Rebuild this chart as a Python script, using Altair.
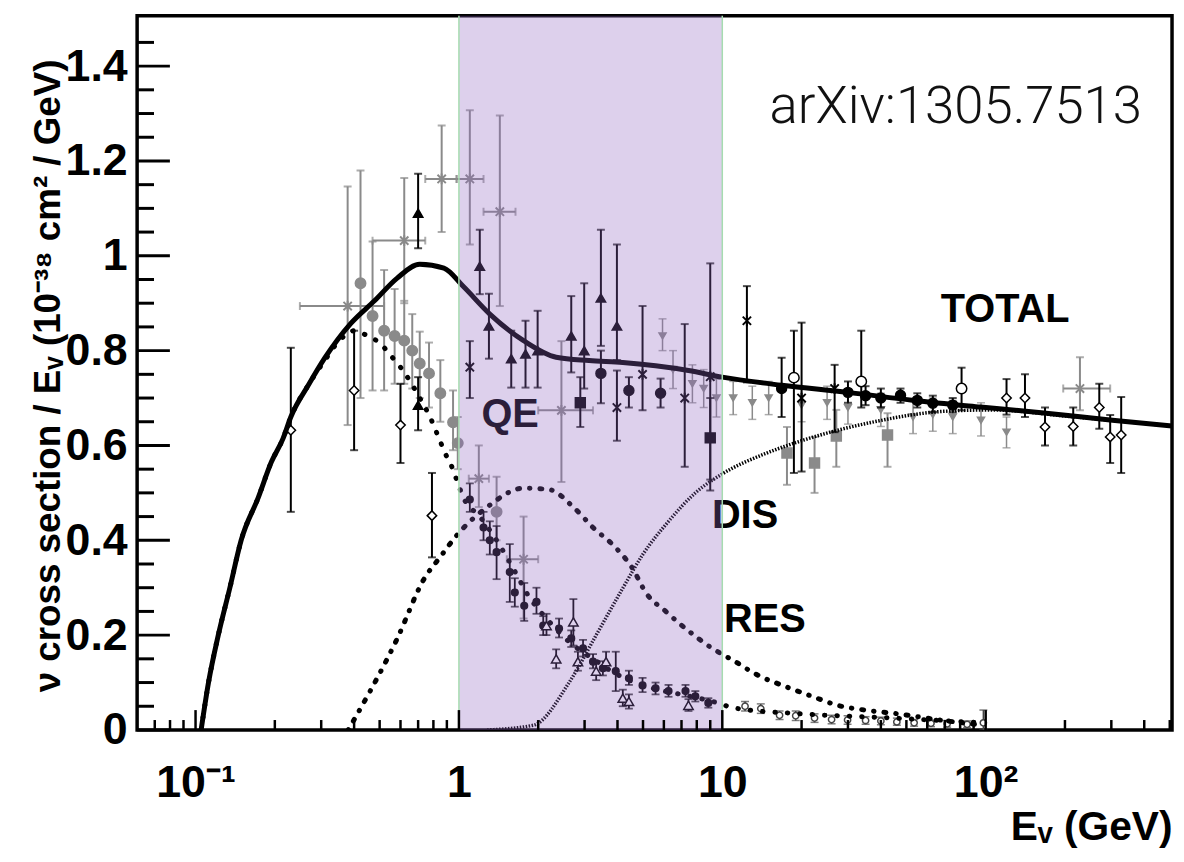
import altair as alt
import pandas as pd

FONT = "Liberation Sans"
BLACK = "#000000"
GRAY = "#8a8a8a"

# ---------------- axes / ticks ----------------
X_DOMAIN = [0.06, 510]
Y_DOMAIN = [0, 1.506]
BAND = [1, 10]
X_LABEL_VALUES = [0.1, 1, 10, 100]
Y_LABEL_VALUES = [0, 0.2, 0.4, 0.6, 0.8, 1, 1.2, 1.4]
X_MAJOR_TICKS = [0.1, 1, 10, 100]
X_MINOR_TICKS = [0.07, 0.08, 0.09, 0.2, 0.3, 0.4, 0.5, 0.6, 0.7, 0.8, 0.9,
                 2, 3, 4, 5, 6, 7, 8, 9, 20, 30, 40, 50, 60, 70, 80, 90,
                 200, 300, 400, 500]
Y_MAJOR_TICKS = [0, 0.2, 0.4, 0.6, 0.8, 1, 1.2, 1.4]
Y_MINOR_TICKS = [0.05, 0.1, 0.15, 0.25, 0.3, 0.35, 0.45, 0.5, 0.55, 0.65, 0.7,
                 0.75, 0.85, 0.9, 0.95, 1.05, 1.1, 1.15, 1.25, 1.3, 1.35, 1.45]

# ---------------- model curves ----------------
TOTAL_E = [0.105, 0.112, 0.122, 0.135, 0.149, 0.173, 0.194, 0.215, 0.23, 0.27, 0.31,
           0.388, 0.478, 0.583, 0.71, 0.877, 1.04, 1.31, 1.76, 2.34, 3.12, 4.19,
           5.58, 7.44, 10, 16.8, 29.9, 53.5, 95.5, 170, 303, 510]
TOTAL_Y = [0.0, 0.1, 0.2, 0.3, 0.4, 0.49, 0.565, 0.615, 0.66, 0.73, 0.785,
           0.857, 0.905, 0.953, 0.982, 0.974, 0.935, 0.877, 0.821, 0.786, 0.779, 0.775,
           0.768, 0.758, 0.744, 0.727, 0.712, 0.695, 0.681, 0.668, 0.653, 0.641]

QE_E = [0.105, 0.112, 0.122, 0.135, 0.149, 0.173, 0.194, 0.215, 0.23, 0.27, 0.31,
        0.35, 0.402, 0.45, 0.503, 0.55, 0.6, 0.65, 0.71, 0.777, 0.84, 0.886, 0.94,
        0.98, 1.04, 1.2, 1.39, 1.61, 1.85, 2.15, 2.62, 3.23, 4.05, 5.44, 7.25, 9.2,
        11.2, 18.8, 45, 98]
QE_Y = [0.0, 0.1, 0.2, 0.3, 0.4, 0.49, 0.565, 0.615, 0.66, 0.73, 0.78,
        0.82, 0.842, 0.831, 0.815, 0.79, 0.765, 0.737, 0.70, 0.66, 0.615, 0.584, 0.555,
        0.528, 0.49, 0.45, 0.40, 0.34, 0.28, 0.235, 0.186, 0.15, 0.115, 0.088, 0.073, 0.06,
        0.046, 0.035, 0.025, 0.015]

RES_E = [0.38, 0.58, 0.74, 0.85, 0.98, 1.28, 1.76, 2.2, 2.72, 3.23, 3.88, 4.57, 5.12,
         6.1, 7.4, 9.0, 11.2, 13.7, 17.3, 21.9, 27.4, 34.7, 45, 69, 98]
RES_Y = [0.0, 0.19, 0.32, 0.365, 0.41, 0.47, 0.51, 0.507, 0.47, 0.427, 0.388, 0.34, 0.29,
         0.25, 0.21, 0.175, 0.144, 0.115, 0.092, 0.071, 0.052, 0.042, 0.035, 0.02, 0.01]

DIS_E = [1.28, 1.92, 2.62, 3.32, 4.2, 4.99, 6.25, 7.9, 10, 14.9, 20, 37.8, 69.5, 107, 200, 510]
DIS_Y = [0.0, 0.01, 0.10, 0.2, 0.30, 0.37, 0.44, 0.50, 0.54, 0.585, 0.61, 0.65, 0.672,
         0.675, 0.662, 0.641]

# ---------------- data sets ----------------
# black filled triangles
A_E = [0.70, 0.70, 1.20, 1.30, 1.58, 1.79, 1.99, 2.67, 2.99, 3.46, 3.98]
A_Y = [1.09, 0.685, 0.978, 0.852, 0.783, 0.793, 0.80, 0.831, 0.80, 0.911, 0.852]
A_LO = [1.016, 0.632, 0.919, 0.783, 0.722, 0.722, 0.722, 0.754, 0.72, 0.81, 0.78]
A_HI = [1.173, 0.744, 1.055, 0.92, 0.842, 0.863, 0.884, 0.915, 0.942, 1.055, 1.024]

# black open diamonds
B_E = [0.23, 0.40, 0.60, 0.79, 120, 141, 168, 215, 270, 297, 327]
B_Y = [0.632, 0.716, 0.643, 0.452, 0.70, 0.70, 0.639, 0.64, 0.68, 0.618, 0.622]
B_LO = [0.46, 0.59, 0.563, 0.364, 0.665, 0.66, 0.60, 0.60, 0.635, 0.563, 0.542]
B_HI = [0.806, 0.842, 0.73, 0.542, 0.74, 0.75, 0.68, 0.68, 0.73, 0.664, 0.702]

# black filled circles
C_E = [3.46, 4.42, 5.83, 16.8, 30, 35, 40, 47.5, 55, 63, 75]
C_Y = [0.752, 0.716, 0.71, 0.72, 0.712, 0.705, 0.70, 0.706, 0.695, 0.689, 0.685]
C_LO = [0.689, 0.68, 0.68, 0.66, 0.69, 0.685, 0.68, 0.69, 0.68, 0.67, 0.67]
C_HI = [0.80, 0.744, 0.741, 0.785, 0.735, 0.725, 0.72, 0.72, 0.71, 0.705, 0.70]

# black asterisks
D_E = [1.10, 3.98, 4.98, 7.2, 9.0, 12.4, 20.0, 26.7]
D_Y = [0.765, 0.68, 0.75, 0.70, 0.745, 0.863, 0.70, 0.72]
D_LO = [0.70, 0.61, 0.674, 0.555, 0.505, 0.733, 0.545, 0.628]
D_HI = [0.82, 0.758, 0.894, 0.856, 0.984, 0.936, 0.859, 0.77]

# black filled squares
E_E = [2.89, 9.0]
E_Y = [0.69, 0.616]
E_LO = [0.639, 0.528]
E_HI = [0.744, 0.70]

# gray filled circles
F_E = [0.423, 0.47, 0.52, 0.57, 0.62, 0.665, 0.71, 0.77, 0.85, 0.95, 0.99, 1.39]
F_Y = [0.942, 0.873, 0.842, 0.831, 0.821, 0.80, 0.773, 0.752, 0.71, 0.649, 0.605, 0.46]
F_LO = [0.70, 0.716, 0.716, 0.73, 0.73, 0.72, 0.70, 0.68, 0.65, 0.59, 0.55, 0.40]
F_HI = [1.18, 1.03, 0.97, 0.93, 0.905, 0.877, 0.84, 0.817, 0.78, 0.716, 0.66, 0.534]

# gray asterisks with energy bins
G_E = [0.378, 0.62, 0.86, 1.10, 1.43, 1.19, 1.76, 2.45, 228]
G_Y = [0.894, 1.032, 1.162, 1.162, 1.093, 0.53, 0.36, 0.674, 0.72]
G_LO = [0.643, 0.90, 1.05, 1.024, 0.894, 0.47, 0.235, 0.523, 0.674]
G_HI = [1.146, 1.164, 1.275, 1.307, 1.296, 0.60, 0.45, 0.82, 0.786]
G_XLO = [0.249, 0.47, 0.745, 0.98, 1.24, 1.09, 1.52, 2.0, 197]
G_XHI = [0.52, 0.745, 0.98, 1.24, 1.64, 1.30, 2.0, 3.23, 297]

# gray filled squares
H_E = [17.6, 22.4, 27.1, 42.4]
H_Y = [0.584, 0.563, 0.62, 0.622]
H_LO = [0.517, 0.50, 0.555, 0.555]
H_HI = [0.639, 0.618, 0.675, 0.668]

# gray triangles (down)
I_E = [5.93, 6.5, 7.7, 8.5, 9.5, 11, 13, 15, 20, 25, 30, 40, 53, 63, 75, 96, 120]
I_Y = [0.831, 0.76, 0.73, 0.72, 0.70, 0.70, 0.69, 0.70, 0.685, 0.69, 0.68, 0.675,
       0.66, 0.665, 0.66, 0.653, 0.628]
I_LO = [0.80, 0.72, 0.69, 0.68, 0.66, 0.665, 0.655, 0.665, 0.65, 0.655, 0.645, 0.64,
        0.625, 0.63, 0.625, 0.62, 0.595]
I_HI = [0.867, 0.80, 0.77, 0.76, 0.74, 0.735, 0.725, 0.735, 0.72, 0.725, 0.715, 0.71,
        0.695, 0.70, 0.695, 0.69, 0.66]

# black open circles
J_E = [18.7, 33.7, 81]
J_Y = [0.743, 0.735, 0.72]
J_LO = [0.542, 0.68, 0.674]
J_HI = [0.842, 0.842, 0.764]

# black small filled circles along QE
K_E = [1.10, 1.24, 1.31, 1.39, 1.56, 1.63, 1.77, 1.97, 2.09, 2.40, 2.67, 2.96, 3.23,
       3.52, 3.94, 4.42, 4.98, 5.58, 6.25, 7.25, 7.9, 8.85]
K_Y = [0.486, 0.427, 0.40, 0.375, 0.333, 0.29, 0.262, 0.27, 0.22, 0.214, 0.193, 0.172,
       0.144, 0.13, 0.124, 0.109, 0.094, 0.088, 0.082, 0.082, 0.071, 0.057]
K_LO = [0.46, 0.40, 0.37, 0.318, 0.27, 0.26, 0.23, 0.245, 0.20, 0.195, 0.175, 0.155,
        0.13, 0.115, 0.082, 0.095, 0.08, 0.075, 0.07, 0.07, 0.06, 0.047]
K_HI = [0.52, 0.46, 0.44, 0.43, 0.392, 0.32, 0.31, 0.30, 0.24, 0.235, 0.21, 0.19,
        0.16, 0.145, 0.165, 0.125, 0.11, 0.10, 0.095, 0.095, 0.082, 0.067]

# black open triangles along QE
T_E = [2.15, 2.34, 2.72, 2.83, 3.32, 3.62, 4.19, 4.42, 7.44]
T_Y = [0.22, 0.15, 0.228, 0.144, 0.124, 0.144, 0.067, 0.06, 0.052]
T_LO = [0.20, 0.13, 0.178, 0.125, 0.105, 0.125, 0.05, 0.045, 0.04]
T_HI = [0.245, 0.17, 0.276, 0.165, 0.145, 0.165, 0.085, 0.075, 0.065]

# high-energy QE tail points
L_E = [12.2, 14, 16.5, 19, 22.4, 26, 29.9, 35, 40, 46, 53.5, 62, 71.4, 85, 98]
L_Y = [0.05, 0.045, 0.031, 0.03, 0.025, 0.022, 0.021, 0.02, 0.019, 0.017, 0.015,
       0.014, 0.013, 0.012, 0.015]
L_LO = [0.04, 0.035, 0.022, 0.02, 0.016, 0.013, 0.012, 0.012, 0.011, 0.01, 0.008,
        0.007, 0.006, 0.005, 0.0]
L_HI = [0.06, 0.055, 0.04, 0.04, 0.034, 0.031, 0.03, 0.028, 0.027, 0.025, 0.022,
        0.021, 0.02, 0.019, 0.042]

# labels
CURVE_LABELS = ["TOTAL", "QE", "DIS", "RES"]
CURVE_LABEL_E = [118.5, 1.565, 12.2, 14.5]
CURVE_LABEL_Y = [0.886, 0.664, 0.452, 0.232]
REF_TEXT = ["arXiv:1305.7513"]
REF_E = [77]
REF_Y = [1.313]

ASTERISK = "M-1,-1L1,1M-1,1L1,-1M0,-1.3L0,1.3"

# ---------------- scales / axes ----------------
XS = alt.Scale(type="log", domain=X_DOMAIN, nice=False)
YS = alt.Scale(domain=Y_DOMAIN, nice=False, zero=False)

X_AXIS = alt.Axis(
    values=X_LABEL_VALUES,
    labelExpr="datum.value < 0.5 ? '10⁻¹' : (datum.value > 50 ? '10²' : (datum.value < 5 ? '1' : '10'))",
    tickSize=0, domain=False, grid=False,
    labelFont=FONT, labelFontSize=45, labelFontWeight="bold", labelColor=BLACK,
    labelPadding=31, labelBaseline="top", labelFlush=False, labelOverlap=False,
    title="Eᵥ (GeV)", titleFont=FONT, titleFontSize=41, titleFontWeight="bold",
    titleColor=BLACK, titleX=1042, titleY=110, titleAlign="right",
    titleBaseline="alphabetic", titleAngle=0,
)
Y_AXIS = alt.Axis(
    values=Y_LABEL_VALUES, format="~g",
    tickSize=0, domain=False, grid=False,
    labelFont=FONT, labelFontSize=45, labelFontWeight="bold", labelColor=BLACK,
    labelPadding=10, labelBaseline="middle", labelFlush=False, labelOverlap=False,
    title="ν cross section / Eᵥ (10⁻³⁸ cm² / GeV)", titleFont=FONT, titleFontSize=37,
    titleFontWeight="bold", titleColor=BLACK, titleX=-78, titleY=362,
    titleAngle=270, titleAlign="center", titleBaseline="alphabetic",
)


def xq(field):
    return alt.X(f"{field}:Q", scale=XS, axis=X_AXIS)


def yq(field):
    return alt.Y(f"{field}:Q", scale=YS, axis=Y_AXIS)


def dataset(E, Y, LO, HI, shape, color, fill, size, sw=2.0, stroke_w=1.5, xlo=None, xhi=None, caps=True):
    d = {"E": E, "Y": Y, "LO": LO, "HI": HI}
    if xlo is not None:
        d["XLO"] = xlo
        d["XHI"] = xhi
    df = pd.DataFrame(d)
    base = alt.Chart(df)
    layers = [
        base.mark_rule(color=color, strokeWidth=sw, clip=True).encode(
            x=xq("E"), y=yq("LO"), y2="HI"),
    ]
    if caps:
        layers += [
            base.mark_tick(color=color, orient="horizontal", size=8, thickness=sw, clip=True).encode(
                x=xq("E"), y=yq("LO")),
            base.mark_tick(color=color, orient="horizontal", size=8, thickness=sw, clip=True).encode(
                x=xq("E"), y=yq("HI")),
        ]
    if xlo is not None:
        layers += [
            base.mark_rule(color=color, strokeWidth=sw, clip=True).encode(
                x=xq("XLO"), x2="XHI", y=yq("Y")),
            base.mark_tick(color=color, orient="vertical", size=8, thickness=sw, clip=True).encode(
                x=xq("XLO"), y=yq("Y")),
            base.mark_tick(color=color, orient="vertical", size=8, thickness=sw, clip=True).encode(
                x=xq("XHI"), y=yq("Y")),
        ]
    if fill is None:
        pt = base.mark_point(shape=shape, filled=False, stroke=color, strokeWidth=stroke_w,
                             size=size, opacity=1, clip=True)
    else:
        pt = base.mark_point(shape=shape, filled=True, fill=fill, stroke=color,
                             strokeWidth=stroke_w, size=size, opacity=1, clip=True)
    layers.append(pt.encode(x=xq("E"), y=yq("Y")))
    return layers


def curve(E, Y, width, dash=None, cap="butt"):
    df = pd.DataFrame({"E": E, "Y": Y})
    kw = dict(color=BLACK, strokeWidth=width, interpolate="monotone", clip=True, strokeCap=cap)
    if dash is not None:
        kw["strokeDash"] = dash
    return alt.Chart(df).mark_line(**kw).encode(x=xq("E"), y=yq("Y"))


layers = []
layers += dataset(F_E, F_Y, F_LO, F_HI, "circle", GRAY, GRAY, 110, caps=True)
layers += dataset(G_E, G_Y, G_LO, G_HI, ASTERISK, GRAY, None, 70, stroke_w=2,
                  xlo=G_XLO, xhi=G_XHI)
layers += dataset(H_E, H_Y, H_LO, H_HI, "square", GRAY, GRAY, 100)
layers += dataset(I_E, I_Y, I_LO, I_HI, "triangle-down", GRAY, GRAY, 50, sw=1.5)
layers += dataset(L_E, L_Y, L_LO, L_HI, "circle", "#444444", "white", 40, sw=1.5)
layers += dataset(A_E, A_Y, A_LO, A_HI, "triangle-up", BLACK, BLACK, 90)
layers += dataset(B_E, B_Y, B_LO, B_HI, "diamond", BLACK, "white", 90)
layers += dataset(C_E, C_Y, C_LO, C_HI, "circle", BLACK, BLACK, 100)
layers += dataset(D_E, D_Y, D_LO, D_HI, ASTERISK, BLACK, None, 70, stroke_w=2)
layers += dataset(E_E, E_Y, E_LO, E_HI, "square", BLACK, BLACK, 100)
layers += dataset(J_E, J_Y, J_LO, J_HI, "circle", BLACK, "white", 110)
layers += dataset(K_E, K_Y, K_LO, K_HI, "circle", BLACK, BLACK, 45, sw=1.8)
layers += dataset(T_E, T_Y, T_LO, T_HI, "triangle-up", BLACK, "white", 90, sw=1.8)

# model curves
layers.append(curve(DIS_E, DIS_Y, 3.5, dash=[1.5, 1.5]))
layers.append(curve(RES_E, RES_Y, 5, dash=[0.5, 10, 2, 10], cap="round"))
layers.append(curve(QE_E, QE_Y, 5, dash=[0.5, 12], cap="round"))
layers.append(curve(TOTAL_E, TOTAL_Y, 5))

# curve labels
lab_df = pd.DataFrame({"E": CURVE_LABEL_E, "Y": CURVE_LABEL_Y, "T": CURVE_LABELS})
layers.append(alt.Chart(lab_df).mark_text(font=FONT, fontSize=40, fontWeight="bold",
                                          color=BLACK, align="center", baseline="middle").encode(
    x=xq("E"), y=yq("Y"), text="T:N"))

# shaded 1-10 GeV band (drawn on top, translucent)
band_df = pd.DataFrame({"X1": [BAND[0]], "X2": [BAND[1]], "Y1": [Y_DOMAIN[0]], "Y2": [Y_DOMAIN[1]]})
layers.append(alt.Chart(band_df).mark_rect(color="#8e62c0", opacity=0.3).encode(
    x=xq("X1"), x2="X2", y=yq("Y1"), y2="Y2"))
edge_df = pd.DataFrame({"E": BAND})
layers.append(alt.Chart(edge_df).mark_rule(color="#a6dcb0", strokeWidth=1.5).encode(
    x=xq("E"), y=alt.value(0), y2=alt.value(719)))

# inward ticks
layers.append(alt.Chart(pd.DataFrame({"E": X_MAJOR_TICKS})).mark_rule(color=BLACK, strokeWidth=2.5).encode(
    x=xq("E"), y=alt.value(719), y2=alt.value(699)))
layers.append(alt.Chart(pd.DataFrame({"E": X_MINOR_TICKS})).mark_rule(color=BLACK, strokeWidth=2.5).encode(
    x=xq("E"), y=alt.value(719), y2=alt.value(709)))
layers.append(alt.Chart(pd.DataFrame({"V": Y_MAJOR_TICKS})).mark_rule(color=BLACK, strokeWidth=3).encode(
    y=yq("V"), x=alt.value(0), x2=alt.value(33)))
layers.append(alt.Chart(pd.DataFrame({"V": Y_MINOR_TICKS})).mark_rule(color=BLACK, strokeWidth=3).encode(
    y=yq("V"), x=alt.value(0), x2=alt.value(17)))

# reference text
ref_df = pd.DataFrame({"E": REF_E, "Y": REF_Y, "T": REF_TEXT})
layers.append(alt.Chart(ref_df).mark_text(font="Roboto", fontSize=53, fontWeight=300,
                                          color="#111111", align="center", baseline="middle").encode(
    x=xq("E"), y=yq("Y"), text="T:N"))

chart = alt.layer(*layers).properties(
    width=1042, height=719,
    padding={"left": 130, "top": 5, "right": 4, "bottom": 125},
    autosize=alt.AutoSizeParams(type="none"),
).configure(background="white").configure_view(stroke=BLACK, strokeWidth=3.5)

chart.save("out.html", embed_options={"renderer": "svg", "actions": False})
